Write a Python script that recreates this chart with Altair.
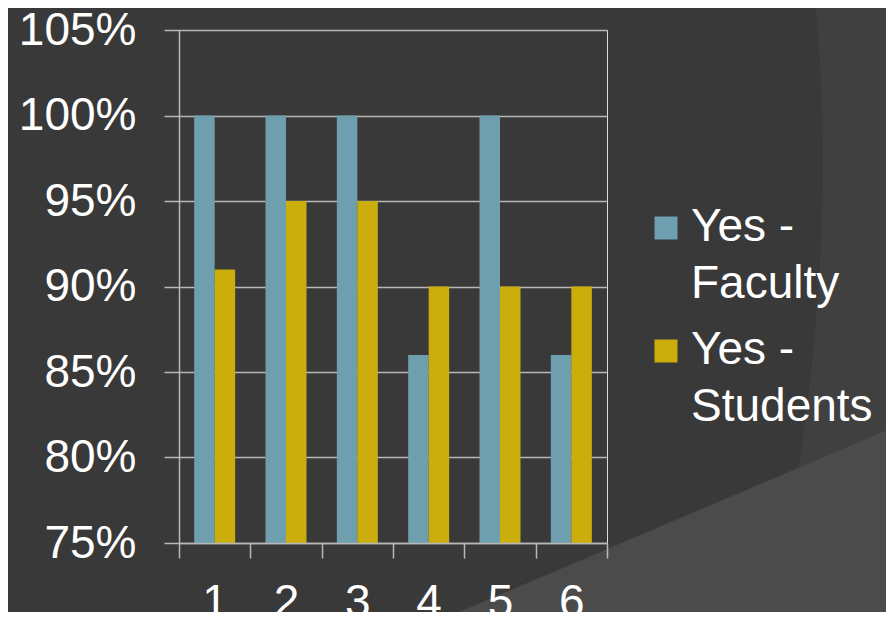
import altair as alt
import pandas as pd

categories = ["1", "2", "3", "4", "5", "6"]
series_names = ["Yes - Faculty", "Yes - Students"]
faculty = [1.00, 1.00, 1.00, 0.86, 1.00, 0.86]
students = [0.91, 0.95, 0.95, 0.90, 0.90, 0.90]
y_ticks = [0.75, 0.80, 0.85, 0.90, 0.95, 1.00, 1.05]
colors = ["#6e9fae", "#cbae0c"]

rows = []
for c, f, s in zip(categories, faculty, students):
    rows.append({"cat": c, "series": series_names[0], "value": f})
    rows.append({"cat": c, "series": series_names[1], "value": s})
df = pd.DataFrame(rows)

FONT = "Liberation Sans"
GRID = "#b8b8b8"
one = pd.DataFrame({"d": [0]})

# decorative background shapes (slide theme)
arc = alt.Chart(one).mark_point(
    shape="M634,-45 C652,100 650,350 586,600 L570,660 L800,660 L800,-45 Z",
    size=4, filled=True, fill="#404040", opacity=1, strokeWidth=0,
).encode(x=alt.value(0), y=alt.value(0))

deco = alt.Chart(one).mark_point(
    shape="M200,616 L760,378 L760,700 L200,700 Z",
    size=4, filled=True, fill="#4b4b4b", opacity=1, strokeWidth=0,
).encode(x=alt.value(0), y=alt.value(0))

bars = alt.Chart(df).mark_bar().encode(
    x=alt.X("cat:N", sort=categories,
            scale=alt.Scale(paddingInner=0, paddingOuter=0),
            axis=alt.Axis(title=None, labelAngle=0, tickBand="extent",
                          tickSize=15, tickColor=GRID, tickWidth=1.5,
                          domainColor=GRID, domainWidth=1.5,
                          labelFontSize=46, labelFont=FONT, labelColor="white",
                          labelPadding=9, zindex=1)),
    xOffset=alt.XOffset("series:N", sort=series_names,
                        scale=alt.Scale(paddingInner=0, paddingOuter=0.74)),
    y=alt.Y("value:Q",
            scale=alt.Scale(domain=[0.75, 1.05], zero=False, nice=False, clamp=True),
            axis=alt.Axis(title=None, values=y_ticks, format=".0%",
                          grid=True, gridColor=GRID, gridWidth=1.5,
                          tickSize=15, tickColor=GRID, tickWidth=1.5,
                          domainColor=GRID, domainWidth=1.5,
                          labelFontSize=46, labelFont=FONT, labelColor="white",
                          labelPadding=28, labelOffset=-13)),
    color=alt.Color("series:N", sort=series_names,
                    scale=alt.Scale(domain=series_names, range=colors),
                    legend=alt.Legend(
                        title=None, orient="none", legendX=464, legendY=175,
                        symbolType="square", symbolSize=529, symbolStrokeWidth=0,
                        labelFontSize=46, labelFont=FONT, labelColor="white",
                        labelExpr="datum.label == 'Yes - Faculty' ? ['Yes -', 'Faculty'] : ['Yes -', 'Students']",
                        labelBaseline="alphabetic", labelOffset=2, labelLimit=400,
                        rowPadding=20)),
)

chart = alt.layer(arc, deco, bars).properties(
    width=428, height=513,
    autosize=alt.AutoSizeParams(type="none"),
    padding={"left": 171, "top": 22, "right": 279, "bottom": 69},
    background="#393939",
).configure_view(stroke=None).configure(
    style={"guide-label": {"lineHeight": 57, "dy": 13}}
)

chart.save("out.html", embed_options={"renderer": "svg", "actions": False})
